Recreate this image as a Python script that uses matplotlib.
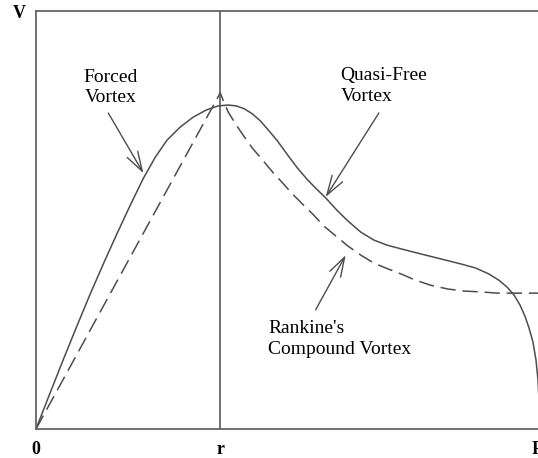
import matplotlib
matplotlib.use("Agg")
import matplotlib.pyplot as plt

# radius axis: 0 at the centre, r = core radius, R = outer wall (R = 1)
r_core = 0.367

# measured profile ("Quasi-Free Vortex" solid curve)
actual_x = [0.000, 0.028, 0.054, 0.080, 0.108, 0.136, 0.162, 0.188, 0.214, 0.238,
            0.261, 0.287, 0.313, 0.339, 0.363, 0.383, 0.399, 0.415, 0.431, 0.447,
            0.463, 0.481, 0.501, 0.521, 0.541, 0.559, 0.577, 0.599, 0.621, 0.647,
            0.673, 0.699, 0.727, 0.766, 0.806, 0.846, 0.876, 0.902, 0.922, 0.938,
            0.952, 0.964, 0.974, 0.982, 0.990, 0.996, 1.000, 1.002, 1.004]
actual_v = [0.000, 0.086, 0.165, 0.242, 0.323, 0.400, 0.469, 0.536, 0.600, 0.651,
            0.691, 0.722, 0.746, 0.763, 0.773, 0.775, 0.773, 0.766, 0.754, 0.737,
            0.715, 0.689, 0.656, 0.624, 0.596, 0.574, 0.553, 0.524, 0.498, 0.471,
            0.452, 0.440, 0.431, 0.419, 0.407, 0.395, 0.385, 0.371, 0.356, 0.340,
            0.321, 0.297, 0.270, 0.242, 0.208, 0.165, 0.117, 0.069, 0.000]

# Rankine's compound vortex (dashed): forced core then free vortex
rankine_x = [0.000, 0.367, 0.375, 0.383, 0.399, 0.415, 0.431, 0.451, 0.471, 0.491,
             0.511, 0.531, 0.553, 0.573, 0.597, 0.621, 0.647, 0.673, 0.701, 0.727,
             0.756, 0.786, 0.820, 0.852, 0.886, 0.920, 1.002]
rankine_v = [0.000, 0.804, 0.780, 0.758, 0.727, 0.699, 0.672, 0.644, 0.615, 0.589,
             0.562, 0.538, 0.512, 0.486, 0.462, 0.438, 0.416, 0.397, 0.383, 0.371,
             0.356, 0.344, 0.335, 0.330, 0.328, 0.325, 0.325]

tick_pos = [0.0, r_core, 1.0]
tick_labels = ["0", "r", "R"]

line_col = "#4d4d4d"
serif = ["Liberation Serif", "DejaVu Serif"]

fig = plt.figure(figsize=(5.38, 4.58), dpi=100)
ax = fig.add_axes([36 / 538, 29 / 458, 502 / 538, 418 / 458])

ax.plot(actual_x, actual_v, color=line_col, lw=1.1, solid_joinstyle="round")
ax.plot(rankine_x, rankine_v, color=line_col, lw=1.1, linestyle=(0, (10, 4.5)),
        dash_joinstyle="round")
ax.axvline(r_core, color=line_col, lw=1.1)

ax.set_xlim(0, 1)
ax.set_ylim(0, 1)
ax.set_xticks(tick_pos)
ax.set_xticklabels(tick_labels, family=serif, fontsize=13, fontweight="bold")
ax.tick_params(axis="x", length=0, pad=9)
ax.set_yticks([])
ax.spines["right"].set_visible(False)
for side in ["left", "bottom", "top"]:
    ax.spines[side].set_color("#666666")
    ax.spines[side].set_linewidth(1.3)

fig.text(19 / 538, 1 - 13 / 458, "V", family=serif, fontsize=13, fontweight="bold",
         ha="center", va="center")

# labels
ax.text(0.148, 0.817, "Forced\nVortex", family=serif, fontsize=14, ha="center",
        va="center", linespacing=1.3)
ax.text(0.607, 0.82, "Quasi-Free\nVortex", family=serif, fontsize=14, ha="left",
        va="center", linespacing=1.3)
ax.text(0.463, 0.216, "Rankine's\nCompound Vortex", family=serif, fontsize=14,
        ha="left", va="center", linespacing=1.3)

arrow = dict(arrowstyle="->,head_length=0.7,head_width=0.22", color=line_col,
             lw=1.0, mutation_scale=20, shrinkA=0, shrinkB=0)
ax.annotate("", xy=(0.214, 0.612), xytext=(0.144, 0.756), arrowprops=arrow)
ax.annotate("", xy=(0.577, 0.555), xytext=(0.683, 0.756), arrowprops=arrow)
ax.annotate("", xy=(0.617, 0.416), xytext=(0.557, 0.285), arrowprops=arrow)

fig.savefig("out.png", dpi=100)
